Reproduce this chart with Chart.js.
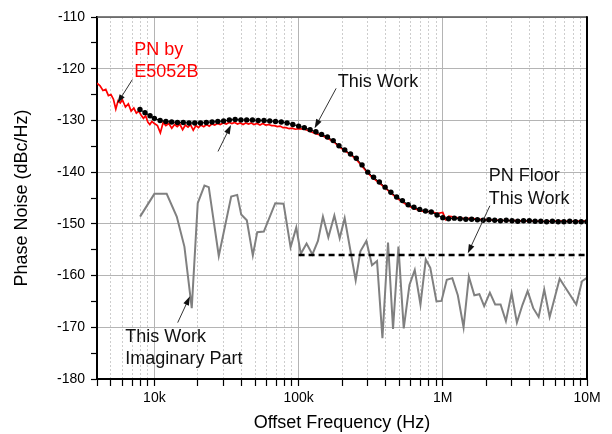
<!DOCTYPE html>
<html>
<head>
<meta charset="utf-8">
<script src="https://cdn.jsdelivr.net/npm/chart.js@4.4.1/dist/chart.umd.min.js"></script>
<style>
  html, body { margin: 0; padding: 0; background: #fff; }
  #wrap { width: 612px; height: 434px; }
</style>
</head>
<body>
<div id="wrap"><canvas id="pnChart" width="612" height="434"></canvas></div>
<script>
// E5052B measurement (red trace)
const redFreq = [
  4000, 4200, 4400, 4600, 4800, 5000, 5200, 5400, 5600, 5800,
  6000, 6300, 6600, 6900, 7200, 7500, 7800, 8100, 8400, 8700,
  9000, 9300, 9600, 10000, 10500, 11000, 11500, 12000, 12600, 13200,
  13800, 14400, 15000, 15700, 16400, 17100, 17800, 18600, 19400, 20200,
  21000, 22000, 23000, 24000, 25000, 26200, 27400, 28600, 30000, 31500,
  33000, 34500, 36000, 37700, 39400, 41200, 43000, 45000, 47000, 49000,
  51500, 54000, 56500, 59000, 62000, 65000, 68000, 71000, 74500, 78000,
  82000, 86000, 90000, 95000, 100000,
  110000, 120000, 130000, 145000, 160000, 175000, 190000, 210000, 230000, 250000,
  275000, 300000, 330000, 360000, 400000, 440000, 480000, 520000, 575000, 630000,
  690000, 760000, 830000, 910000, 1000000, 1050000, 1100000, 1200000, 1300000, 1450000,
  1600000, 1750000, 1900000, 2100000, 2300000, 2500000, 2750000, 3000000, 3300000, 3600000,
  4000000, 4400000, 4800000, 5200000, 5750000, 6300000, 6900000, 7600000, 8300000, 9100000,
  10000000
];
const redPN = [
  -122.8, -123.3, -124.2, -124.0, -125.2, -125.0, -125.9, -127.8, -126.2, -126.6,
  -126.0, -127.4, -126.8, -128.2, -127.6, -128.6, -128.2, -129.0, -129.6, -129.1,
  -130.3, -130.8, -130.2, -130.6, -131.0, -132.4, -130.4, -131.0, -130.6, -131.5,
  -130.8, -131.2, -130.7, -131.8, -130.9, -131.3, -130.8, -131.9, -131.0, -131.4,
  -130.9, -131.2, -130.8, -131.1, -130.7, -130.9, -130.6, -130.8, -130.5, -130.7,
  -130.4, -130.6, -130.4, -130.7, -130.5, -130.8, -130.5, -130.7, -130.5, -130.8,
  -130.6, -130.9, -130.6, -130.9, -130.8, -131.0, -131.0, -131.2, -131.1, -131.4,
  -131.4, -131.6, -131.5, -131.7, -131.6,
  -131.7, -132.1, -132.5, -132.9, -133.5, -134.1, -135.0, -135.9, -136.6, -137.5,
  -138.8, -140.1, -141.2, -142.0, -143.1, -144.1, -145.0, -145.7, -146.5, -147.0,
  -147.4, -147.7, -147.6, -148.0, -147.8, -149.2, -148.5, -148.7, -148.9, -149.0,
  -148.9, -149.2, -149.1, -149.3, -149.2, -149.4, -149.3, -149.4, -149.3, -149.5,
  -149.4, -149.5, -149.4, -149.6, -149.4, -149.5, -149.4, -149.6, -149.4, -149.5,
  -149.4
];

// This Work (black dots)
const workFreq = [
  7943, 8610, 9330, 10000, 10960, 12020, 13180, 14450, 15850, 17380, 19050, 20890, 22910, 25120,
  27540, 30200, 33110, 36310, 39810, 43650, 47860, 52480, 57540, 63100, 69180, 75860, 83180, 91200,
  100000, 109600, 120200, 131800, 144500, 158500, 173800, 190500, 208900, 229100, 251200, 275400, 302000,
  331100, 363100, 398100, 436500, 478600, 524800, 575400, 631000, 691800, 758600, 831800, 912000,
  1000000, 1096000, 1202000, 1318000, 1445000, 1585000, 1738000, 1905000, 2089000, 2291000, 2512000, 2754000, 3020000,
  3311000, 3631000, 3981000, 4365000, 4786000, 5248000, 5754000, 6310000, 6918000, 7586000, 8318000, 9120000, 10000000
];
const workPN = [
  -127.9, -128.5, -129.1, -129.6, -130.0, -130.2, -130.3, -130.4, -130.4, -130.5, -130.5, -130.5, -130.4, -130.3,
  -130.2, -130.1, -129.9, -129.8, -129.9, -129.9, -129.9, -130.0, -130.0, -130.1, -130.2, -130.3, -130.5, -130.8,
  -131.1, -131.4, -131.8, -132.2, -132.7, -133.2, -133.9, -134.9, -135.7, -136.5, -137.3, -138.6, -140.0,
  -141.0, -141.9, -142.9, -143.9, -144.8, -145.5, -146.3, -146.8, -147.2, -147.5, -147.7, -148.3,
  -148.8, -149.0, -148.9, -149.0, -149.1, -149.1, -149.2, -149.3, -149.2, -149.3, -149.4, -149.3, -149.4,
  -149.5, -149.4, -149.4, -149.5, -149.5, -149.6, -149.5, -149.6, -149.6, -149.5, -149.6, -149.6, -149.6
];

// This Work imaginary part (grey)
const imagFreq = [
  7960, 10000, 12170, 14290, 16150, 18160, 19980, 22240, 23830, 27960,
  34090, 37520, 40000, 43750, 48150, 51670, 57410, 68890, 78670, 88000,
  96380, 103600, 113600, 124700, 136200, 147500, 160800, 177000, 192700, 208700,
  248800, 268300, 295200, 322900, 349900, 381400, 417000, 451800, 492500, 536000,
  587200, 639100, 700000, 762100, 818900, 904300, 979500, 1066000, 1164000, 1271000,
  1393000, 1516000, 1655000, 1793000, 1936000, 2121000, 2308000, 2516000, 2739000, 3000000,
  3265000, 3565000, 3875000, 4238000, 4620000, 5052000, 5508000, 6463000, 7035000, 8430000,
  9233000, 9920000
];
const imagPN = [
  -148.6, -144.2, -144.2, -148.6, -154.4, -166.3, -146.0, -142.6, -142.9, -156.2,
  -144.7, -144.4, -148.2, -149.3, -156.1, -151.6, -151.5, -146.0, -146.1, -154.5,
  -150.7, -155.8, -153.8, -155.9, -153.3, -148.6, -152.6, -148.4, -152.8, -148.9,
  -160.9, -155.3, -153.3, -158.0, -157.2, -172.1, -153.6, -170.3, -154.4, -170.2,
  -161.8, -158.9, -165.6, -156.9, -158.5, -165.0, -164.9, -160.8, -160.5, -163.8,
  -170.0, -160.2, -163.8, -163.6, -165.9, -163.3, -165.6, -165.6, -168.8, -163.4,
  -169.1, -165.7, -163.0, -166.3, -168.0, -162.7, -168.0, -160.6, -162.2, -165.6,
  -161.1, -160.5
];

// PN floor (dashed)
const floorFreq = [100000, 10000000];
const floorPN = [-156.0, -156.0];

const xTickValues = [10000, 100000, 1000000, 10000000];
const xTickLabels = ['10k', '100k', '1M', '10M'];

// annotations, anchored in data space (freq, dBc/Hz)
const notes = [
  { lines: ['PN by', 'E5052B'], color: '#ff0000', at: [7260, -116.3], arrow: [[7034, -122.1], [5535, -126.7]] },
  { lines: ['This Work'], color: '#111', at: [186600, -122.5], arrow: [[182100, -123.8], [129150, -131.5]] },
  { lines: [], color: '#111', at: null, arrow: [[27610, -136.0], [33990, -130.9]] },
  { lines: ['PN Floor', 'This Work'], color: '#111', at: [2086000, -140.8], arrow: [[2121000, -146.5], [1491000, -155.7]] },
  { lines: ['This Work', 'Imaginary Part'], color: '#111', at: [6290, -171.8], arrow: [[14510, -169.1], [17640, -164.0]] }
];

const FONT = '"Liberation Sans", Arial, sans-serif';
Chart.defaults.font.family = FONT;

function toPoints(xs, ys) {
  return xs.map((x, i) => ({ x: x, y: ys[i] }));
}

function isDecade(v) {
  const l = Math.log10(v);
  return Math.abs(l - Math.round(l)) < 1e-9;
}

function wholeMantissa(v) {
  const m = v / Math.pow(10, Math.floor(Math.log10(v) + 1e-9));
  return Math.abs(m - Math.round(m)) < 1e-6;
}

function drawArrow(ctx, x1, y1, x2, y2) {
  const a = Math.atan2(y2 - y1, x2 - x1);
  const c = Math.cos(a), s = Math.sin(a);
  ctx.strokeStyle = '#333';
  ctx.lineWidth = 1;
  ctx.beginPath();
  ctx.moveTo(x1, y1);
  ctx.lineTo(x2 - 5 * c, y2 - 5 * s);
  ctx.stroke();
  ctx.fillStyle = '#111';
  ctx.beginPath();
  ctx.moveTo(x2, y2);
  ctx.lineTo(x2 - 9 * c + 3 * s, y2 - 9 * s - 3 * c);
  ctx.lineTo(x2 - 9 * c - 3 * s, y2 - 9 * s + 3 * c);
  ctx.closePath();
  ctx.fill();
}

const notesPlugin = {
  id: 'notes',
  afterDatasetsDraw(chart) {
    const { ctx, scales: { x, y } } = chart;
    ctx.save();
    notes.forEach(n => {
      const p1 = n.arrow[0], p2 = n.arrow[1];
      drawArrow(ctx, x.getPixelForValue(p1[0]), y.getPixelForValue(p1[1]),
                x.getPixelForValue(p2[0]), y.getPixelForValue(p2[1]));
      if (n.at) {
        ctx.fillStyle = n.color;
        ctx.font = '18px ' + FONT;
        ctx.textAlign = 'left';
        ctx.textBaseline = 'middle';
        const tx = x.getPixelForValue(n.at[0]);
        const ty = y.getPixelForValue(n.at[1]);
        n.lines.forEach((t, i) => ctx.fillText(t, tx, ty + i * 22.5));
      }
    });
    ctx.restore();
  }
};

const framePlugin = {
  id: 'frame',
  afterDraw(chart) {
    const { ctx, chartArea: a } = chart;
    ctx.save();
    ctx.strokeStyle = '#555';
    ctx.lineWidth = 1.5;
    ctx.beginPath();
    ctx.moveTo(a.left, a.top);
    ctx.lineTo(a.right, a.top);
    ctx.stroke();
    ctx.strokeStyle = '#000';
    ctx.lineWidth = 2;
    ctx.beginPath();
    ctx.moveTo(a.right, a.top - 0.75);
    ctx.lineTo(a.right, a.bottom);
    ctx.stroke();
    ctx.restore();
  }
};

new Chart(document.getElementById('pnChart'), {
  type: 'scatter',
  data: {
    datasets: [
      {
        label: 'This Work',
        data: toPoints(workFreq, workPN),
        showLine: true,
        borderColor: '#000',
        borderWidth: 1,
        pointRadius: 2.7,
        pointBackgroundColor: '#000',
        pointBorderWidth: 0
      },
      {
        label: 'PN Floor This Work',
        data: toPoints(floorFreq, floorPN),
        showLine: true,
        borderColor: '#000',
        borderWidth: 2.5,
        borderDash: [6, 4],
        pointRadius: 0
      },
      {
        label: 'PN by E5052B',
        data: toPoints(redFreq, redPN),
        showLine: true,
        borderColor: '#ff0000',
        borderWidth: 1.7,
        pointRadius: 0
      },
      {
        label: 'This Work Imaginary Part',
        data: toPoints(imagFreq, imagPN),
        showLine: true,
        borderColor: '#808080',
        borderWidth: 2,
        pointRadius: 0
      }
    ]
  },
  options: {
    responsive: false,
    animation: false,
    events: [],
    layout: { padding: { left: 0, top: 17, right: 25, bottom: 0 } },
    plugins: {
      legend: { display: false },
      tooltip: { enabled: false }
    },
    scales: {
      x: {
        type: 'logarithmic',
        min: 4000,
        max: 10000000,
        afterBuildTicks: s => { s.ticks = s.ticks.filter(t => wholeMantissa(t.value)); },
        afterFit: s => { s.height = 55; },
        ticks: {
          autoSkip: false,
          maxRotation: 0,
          padding: 4,
          color: '#000',
          font: { size: 14 },
          callback: v => {
            const i = xTickValues.findIndex(t => Math.abs(t - v) < 1e-6 * t);
            return i >= 0 ? xTickLabels[i] : '';
          }
        },
        grid: {
          color: c => (c.tick && isDecade(c.tick.value)) ? '#b4b4b4' : '#cdcdcd',
          lineWidth: 1,
          tickLength: 7,
          tickColor: '#000',
          tickWidth: 1.2
        },
        border: {
          color: '#000',
          width: 2,
          dash: c => (c.tick && !isDecade(c.tick.value)) ? [2, 2] : []
        },
        title: {
          display: true,
          text: 'Offset Frequency (Hz)',
          color: '#000',
          font: { size: 18 },
          padding: { top: 0, bottom: 0 }
        }
      },
      y: {
        min: -180,
        max: -110,
        afterFit: s => { s.width = 97; },
        ticks: {
          stepSize: 5,
          autoSkip: false,
          padding: 6,
          color: '#000',
          font: { size: 14 },
          callback: v => (v % 10 === 0 ? String(v) : '')
        },
        grid: {
          color: c => (c.tick && c.tick.value % 10 === 0) ? '#b4b4b4' : 'rgba(0,0,0,0)',
          lineWidth: 1,
          tickLength: 6,
          tickColor: '#000',
          tickWidth: 1.2
        },
        border: { color: '#000', width: 2 },
        title: {
          display: true,
          text: 'Phase Noise (dBc/Hz)',
          color: '#000',
          font: { size: 18 },
          padding: { top: 11, bottom: 0 }
        }
      }
    }
  },
  plugins: [notesPlugin, framePlugin]
});
</script>
</body>
</html>
